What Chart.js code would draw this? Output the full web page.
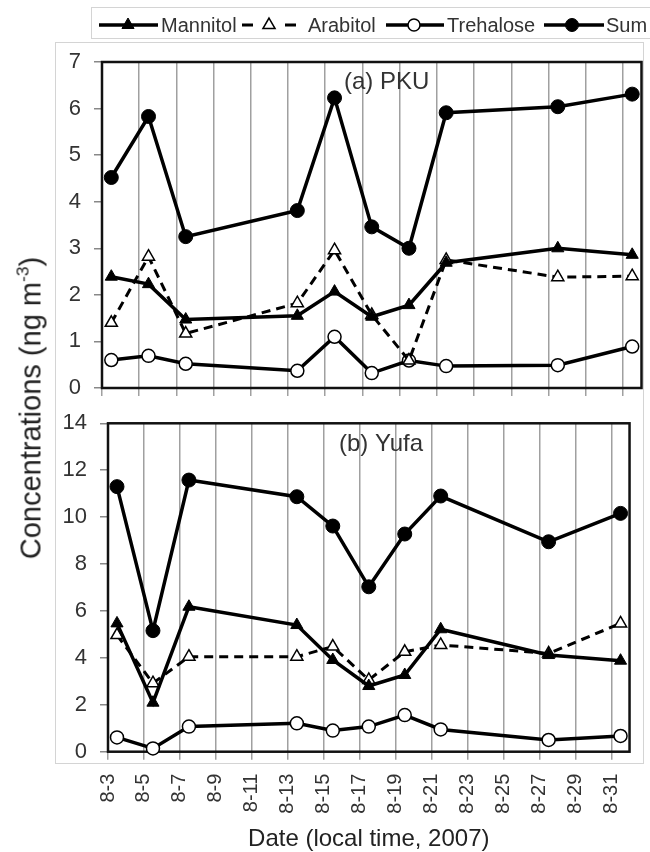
<!DOCTYPE html>
<html><head><meta charset="utf-8">
<script src="https://cdn.jsdelivr.net/npm/chart.js@4/dist/chart.umd.min.js"></script>
<style>
html,body{margin:0;padding:0;background:#fff;}
#wrap{position:relative;width:650px;height:852px;overflow:hidden;font-family:"Liberation Sans",Arial,sans-serif;}
#frame{position:absolute;left:55px;top:42px;width:589px;height:722px;border:1px solid #d4d4d4;box-sizing:border-box;}
#legbox{position:absolute;left:91px;top:7px;width:560px;height:32px;border:1px solid #d4d4d4;box-sizing:border-box;}
#ctop{position:absolute;left:0;top:0;}
#cbot{position:absolute;left:0;top:397px;}
#ytitle{position:absolute;left:31px;top:408px;transform:translate(-50%,-50%) rotate(-90deg);white-space:nowrap;font-size:29px;color:#222;}
#ytitle sup{font-size:0.6em;vertical-align:0.7em;line-height:0;}
</style></head>
<body>
<div id="wrap">
<div id="frame"></div>
<div id="legbox"></div>
<canvas id="ctop" width="650" height="418"></canvas>
<canvas id="cbot" width="650" height="455"></canvas>
<div id="ytitle">Concentrations (ng m<sup>-3</sup>)</div>
</div>
<script>
// ---- data ----
const sampleDays = [3.5, 5.5, 7.5, 13.5, 15.5, 17.5, 19.5, 21.5, 27.5, 31.5];
const tickDays = [3, 5, 7, 9, 11, 13, 15, 17, 19, 21, 23, 25, 27, 29, 31];
const tickLabels = ['8-3','8-5','8-7','8-9','8-11','8-13','8-15','8-17','8-19','8-21','8-23','8-25','8-27','8-29','8-31'];
const seriesNames = ['Mannitol', 'Arabitol', 'Trehalose', 'Sum'];
const pkuMannitol  = [2.39, 2.23, 1.47, 1.55, 2.07, 1.53, 1.78, 2.69, 3.00, 2.86];
const pkuArabitol  = [1.40, 2.82, 1.17, 1.82, 2.96, 1.57, 0.59, 2.75, 2.38, 2.40];
const pkuTrehalose = [0.60, 0.69, 0.52, 0.37, 1.10, 0.32, 0.59, 0.47, 0.49, 0.89];
const pkuSum       = [4.52, 5.83, 3.25, 3.81, 6.23, 3.46, 3.00, 5.91, 6.04, 6.31];
const yufaMannitol  = [5.47, 2.09, 6.18, 5.40, 3.91, 2.80, 3.27, 5.22, 4.12, 3.88];
const yufaArabitol  = [4.97, 2.92, 4.05, 4.05, 4.48, 3.06, 4.26, 4.55, 4.19, 5.47];
const yufaTrehalose = [0.61, 0.14, 1.07, 1.21, 0.90, 1.07, 1.56, 0.95, 0.50, 0.67];
const yufaSum       = [11.30, 5.16, 11.58, 10.87, 9.62, 7.03, 9.28, 10.90, 8.95, 10.16];
const pkuTitle = '(a) PKU';
const yufaTitle = '(b) Yufa';
const xTitle = 'Date (local time, 2007)';

// ---- styles ----
const FONT = '"Liberation Sans", Arial, sans-serif';
const TXT = '#333';
const styles = [
  {pointStyle:'triangle', radius:7, bg:'#000', bw:1, lw:3.5, dash:[]},
  {pointStyle:'triangle', radius:7, bg:'#fff', bw:1.5, lw:3, dash:[9,6]},
  {pointStyle:'circle', radius:6.5, bg:'#fff', bw:1.5, lw:3.5, dash:[]},
  {pointStyle:'circle', radius:7, bg:'#000', bw:1, lw:3.5, dash:[]}
];

function makeDatasets(series) {
  return series.map((vals, i) => {
    const s = styles[i];
    return {
      label: seriesNames[i],
      data: sampleDays.map((d, k) => ({x: d, y: vals[k]})),
      borderColor: '#000',
      borderWidth: s.lw,
      borderDash: s.dash,
      pointStyle: s.pointStyle,
      pointRadius: s.radius,
      pointBackgroundColor: s.bg,
      pointBorderColor: '#000',
      pointBorderWidth: s.bw,
      fill: false,
      tension: 0,
      clip: false
    };
  });
}

const boxPlugin = {
  id: 'box',
  beforeDatasetsDraw(chart) {
    const {ctx, chartArea: a} = chart;
    ctx.save();
    ctx.strokeStyle = '#111';
    ctx.lineWidth = 2.5;
    ctx.strokeRect(a.left, a.top, a.right - a.left, a.bottom - a.top);
    ctx.restore();
  }
};

const panelLabel = {
  id: 'panelLabel',
  afterDraw(chart, args, opts) {
    const {ctx, chartArea: a} = chart;
    ctx.save();
    ctx.font = '24px ' + FONT;
    ctx.fillStyle = TXT;
    ctx.textAlign = 'left';
    ctx.textBaseline = 'middle';
    ctx.fillText(opts.text, a.left + opts.dx, a.top + opts.dy);
    ctx.restore();
  }
};

function drawMarker(ctx, style, x, y) {
  const s = styles[style];
  ctx.save();
  ctx.fillStyle = s.bg;
  ctx.strokeStyle = '#000';
  ctx.lineWidth = s.bw;
  ctx.setLineDash([]);
  ctx.beginPath();
  if (s.pointStyle === 'circle') {
    ctx.arc(x, y, s.radius - 0.5, 0, Math.PI * 2);
  } else {
    const r = s.radius;
    for (let k = 0; k < 3; k++) {
      const ang = k * 2 * Math.PI / 3;
      const px = x + Math.sin(ang) * r, py = y - Math.cos(ang) * r;
      if (k === 0) ctx.moveTo(px, py); else ctx.lineTo(px, py);
    }
    ctx.closePath();
  }
  ctx.fill();
  ctx.stroke();
  ctx.restore();
}

const legendPlugin = {
  id: 'customLegend',
  afterDraw(chart, args, opts) {
    const ctx = chart.ctx;
    const y = opts.y;
    ctx.save();
    opts.items.forEach((it, i) => {
      const s = styles[i];
      ctx.strokeStyle = '#000';
      ctx.lineWidth = s.lw;
      ctx.setLineDash([]);
      ctx.beginPath();
      if (s.dash.length) {
        ctx.moveTo(it.x0, y); ctx.lineTo(it.x0 + 11, y);
        ctx.moveTo(it.x1 - 11, y); ctx.lineTo(it.x1, y);
      } else {
        ctx.moveTo(it.x0, y); ctx.lineTo(it.x1, y);
      }
      ctx.stroke();
      drawMarker(ctx, i, it.mx, y);
      ctx.font = '20px ' + FONT;
      ctx.fillStyle = TXT;
      ctx.textAlign = 'left';
      ctx.textBaseline = 'middle';
      ctx.fillText(seriesNames[i], it.tx, y + 1);
    });
    ctx.restore();
  }
};

function xScale(showLabels, h) {
  return {
    type: 'linear', min: 3, max: 32,
    afterBuildTicks(scale) { scale.ticks = tickDays.map(v => ({value: v})); },
    afterFit(scale) { scale.height = h; },
    border: {display: false},
    grid: {color: '#a0a0a0', lineWidth: 1.5, tickLength: 8, drawOnChartArea: true, drawTicks: true},
    ticks: {
      display: showLabels, autoSkip: false, minRotation: 90, maxRotation: 90,
      padding: 14, color: TXT, font: {size: 20, family: FONT},
      callback: (v) => tickLabels[tickDays.indexOf(v)]
    },
    title: showLabels ? {display: true, text: xTitle, color: '#222', font: {size: 24, family: FONT, lineHeight: 1}, padding: {top: 0, bottom: 1}} : {display: false}
  };
}
function yScale(max, step, w) {
  return {
    type: 'linear', min: 0, max: max,
    afterFit(scale) { scale.width = w; },
    border: {display: false},
    grid: {drawOnChartArea: false, drawTicks: true, tickLength: 8, color: '#888', lineWidth: 1.5},
    ticks: {stepSize: step, padding: 13, color: TXT, font: {size: 22, family: FONT}}
  };
}

Chart.defaults.font.family = FONT;

new Chart(document.getElementById('ctop'), {
  type: 'line',
  data: {datasets: makeDatasets([pkuMannitol, pkuArabitol, pkuTrehalose, pkuSum])},
  options: {
    responsive: false, animation: false, events: [],
    layout: {padding: {top: 62, right: 8, bottom: 0, left: 0}},
    scales: {x: xScale(false, 30), y: yScale(7, 1, 102)},
    plugins: {
      legend: {display: false}, tooltip: {enabled: false},
      panelLabel: {text: pkuTitle, dx: 242, dy: 20},
      customLegend: {y: 25, items: [
        {x0: 99, x1: 158, mx: 128, tx: 161},
        {x0: 242, x1: 296, mx: 269, tx: 308},
        {x0: 386, x1: 444, mx: 414, tx: 447},
        {x0: 544, x1: 604, mx: 572, tx: 606}
      ]}
    }
  },
  plugins: [boxPlugin, panelLabel, legendPlugin]
});

new Chart(document.getElementById('cbot'), {
  type: 'line',
  data: {datasets: makeDatasets([yufaMannitol, yufaArabitol, yufaTrehalose, yufaSum])},
  options: {
    responsive: false, animation: false, events: [],
    layout: {padding: {top: 26.3, right: 13, bottom: 0, left: 0}},
    scales: {x: xScale(true, 100.3), y: yScale(14, 2, 108)},
    plugins: {
      legend: {display: false}, tooltip: {enabled: false},
      panelLabel: {text: yufaTitle, dx: 231, dy: 21}
    }
  },
  plugins: [boxPlugin, panelLabel]
});
</script>
</body></html>
